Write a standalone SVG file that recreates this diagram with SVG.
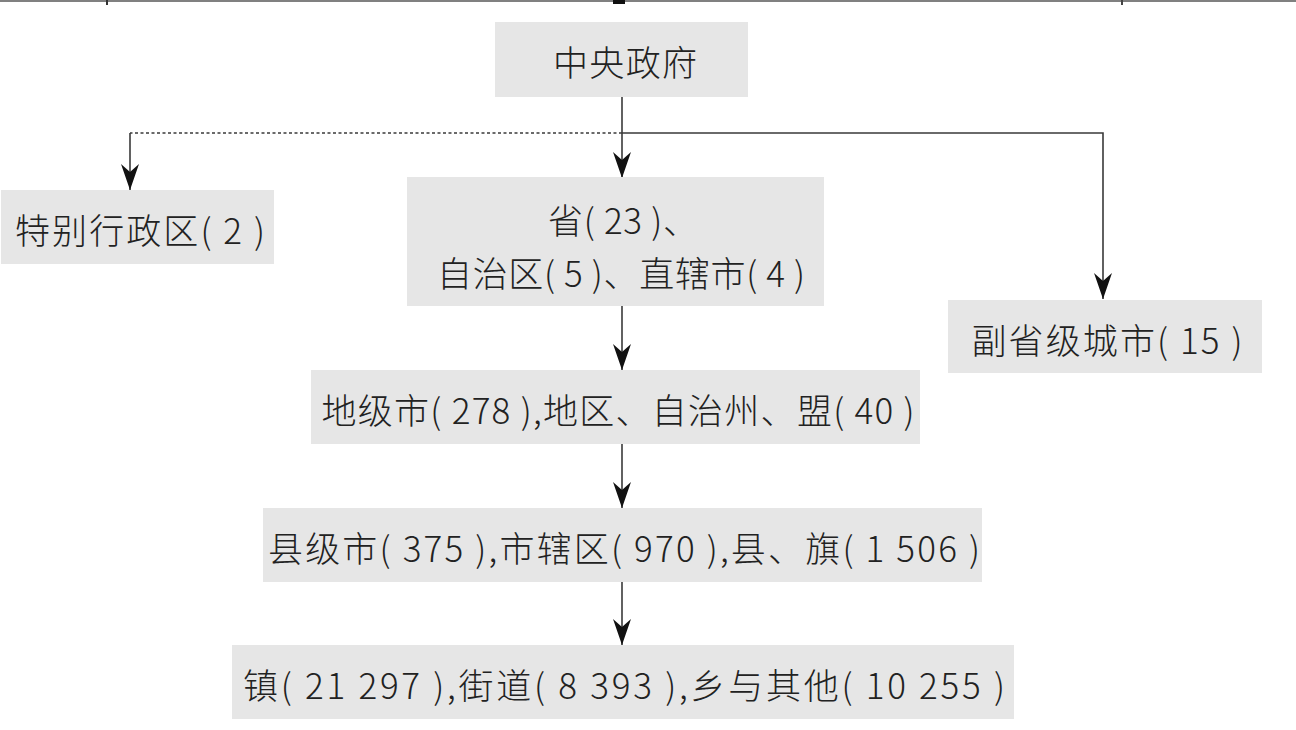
<svg xmlns="http://www.w3.org/2000/svg" width="1296" height="730" viewBox="0 0 1296 730">
  <style>
    .box { fill: #e6e6e6; }
    .lbl { font-family: "Noto Sans CJK SC", "Noto Sans", sans-serif; font-size: 35px; font-weight: 300; fill: #222; text-anchor: middle; dominant-baseline: central; }
    .wire { fill: none; stroke: #3a3a3a; stroke-width: 1.6; }
    .dot { fill: none; stroke: #3a3a3a; stroke-width: 1.6; stroke-dasharray: 3 2.5; }
  </style>
  <defs>
    <marker id="arr" viewBox="0 0 26 18" refX="26" refY="9" markerWidth="26" markerHeight="18" markerUnits="userSpaceOnUse" orient="auto">
      <path d="M0,0 L26,9 L0,18 L8,9 Z" fill="#111"/>
    </marker>
  </defs>

  <!-- page rule along the top edge -->
  <g id="top-rule">
    <rect x="0" y="0" width="1296" height="2" fill="#808080"/>
    <rect x="106" y="0" width="2" height="5" fill="#333"/>
    <rect x="613" y="0" width="12" height="4" fill="#111"/>
    <rect x="1121" y="0" width="2" height="5" fill="#444"/>
  </g>

  <g id="connectors">
    <path class="wire" d="M622,97 V178" marker-end="url(#arr)"/>
    <path class="dot" d="M622,133 H130"/>
    <path class="wire" d="M130,133 V190" marker-end="url(#arr)"/>
    <path class="wire" d="M622,133 H1103 V299" marker-end="url(#arr)"/>
    <path class="wire" d="M622,306 V370" marker-end="url(#arr)"/>
    <path class="wire" d="M622,444 V508" marker-end="url(#arr)"/>
    <path class="wire" d="M622,582 V645" marker-end="url(#arr)"/>
  </g>

  <g id="central">
    <rect class="box" x="495" y="22" width="253" height="75"/>
    <text class="lbl" x="625" y="60" textLength="144">中央政府</text>
  </g>

  <g id="sar">
    <rect class="box" x="1" y="190" width="273" height="74"/>
    <text class="lbl" x="140" y="228" textLength="250">特别行政区( 2 )</text>
  </g>

  <g id="province">
    <rect class="box" x="407" y="177" width="417" height="129"/>
    <text class="lbl" x="623" y="218" textLength="150">省( 23 )、</text>
    <text class="lbl" x="621" y="271" textLength="368">自治区( 5 )、直辖市( 4 )</text>
  </g>

  <g id="sub-provincial">
    <rect class="box" x="948" y="300" width="314" height="73"/>
    <text class="lbl" x="1107" y="338" textLength="271">副省级城市( 15 )</text>
  </g>

  <g id="prefecture">
    <rect class="box" x="311" y="370" width="609" height="74"/>
    <text class="lbl" x="618" y="408" textLength="593">地级市( 278 ),地区、自治州、盟( 40 )</text>
  </g>

  <g id="county">
    <rect class="box" x="263" y="508" width="719" height="74"/>
    <text class="lbl" x="624" y="546" textLength="712">县级市( 375 ),市辖区( 970 ),县、旗( 1 506 )</text>
  </g>

  <g id="township">
    <rect class="box" x="232" y="645" width="782" height="74"/>
    <text class="lbl" x="624" y="683" textLength="762">镇( 21 297 ),街道( 8 393 ),乡与其他( 10 255 )</text>
  </g>
</svg>
